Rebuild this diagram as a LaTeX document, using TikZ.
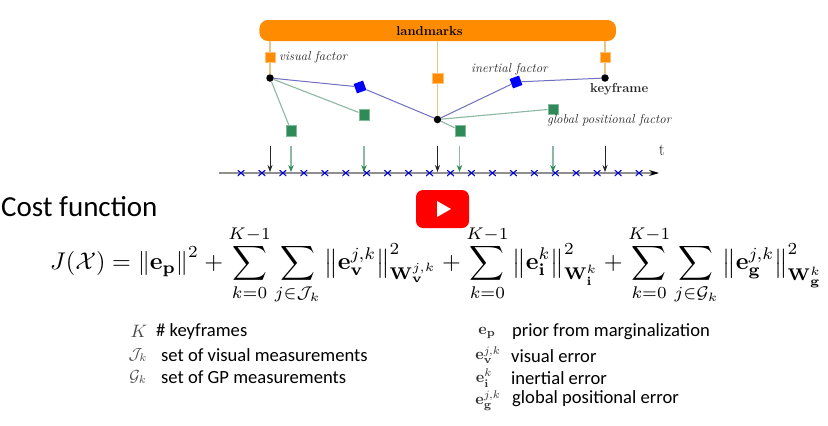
\documentclass[tikz,border=0pt]{standalone}
\usepackage{amsmath,amssymb,graphicx}
\usepackage[no-math]{fontspec}
\setmainfont{Carlito}
\newfontfamily\lmser{Latin Modern Roman}
\usetikzlibrary{arrows.meta}
\definecolor{lmorange}{HTML}{FF8C00}
\definecolor{lmline}{HTML}{E8C684}
\definecolor{gfgreen}{HTML}{2E8B57}
\definecolor{gline}{HTML}{8DB8A3}
\definecolor{bline}{HTML}{7070C0}
\definecolor{axgray}{HTML}{8F8F8F}
\tikzset{
 kf/.style={circle,fill=black,minimum size=7.5pt,inner sep=0},
 vfac/.style={rectangle,fill=lmorange,draw=lmorange!55,line width=.5pt,minimum size=10.5pt,inner sep=0},
 ifac/.style={rectangle,fill=blue,minimum size=10pt,inner sep=0,rotate=20},
 gfac/.style={rectangle,fill=gfgreen,draw=gfgreen!60,line width=.5pt,minimum size=10.5pt,inner sep=0},
 vline/.style={lmline,line width=1.2pt},
 iline/.style={bline,line width=1pt},
 gnline/.style={gline,line width=1.1pt},
 cross/.style={inner sep=0,minimum width=7pt,minimum height=6pt,draw=none,
   path picture={\draw[blue!85!black,line width=1.1pt] (path picture bounding box.south west)--(path picture bounding box.north east)
     (path picture bounding box.north west)--(path picture bounding box.south east);}},
 kfarrow/.style={black!85,line width=.7pt,-{Stealth[length=7pt,width=5pt]},shorten >=1pt},
 garrow/.style={gline,line width=1.1pt,-{Stealth[length=7pt,width=5.5pt,color=gfgreen]},shorten >=1pt},
 flabel/.style={inner sep=0,anchor=west,text=black!85},
 leg/.style={inner sep=0,anchor=west,text=black},
 mathlab/.style={inner sep=0,text=black!70},
}
\begin{document}
\begin{tikzpicture}[x=1pt,y=-1pt]
\useasboundingbox[fill=white] (0,0) rectangle (828,426);
% landmarks
\node[fill=lmorange,rounded corners=8.5pt,minimum width=356.5pt,minimum height=21pt,inner sep=0] (lm) at (437.7,30.5) {};
\node[inner sep=0] (lmt) at (429.5,31.5) {\lmser\fontsize{13}{14}\selectfont\bfseries landmarks};
% keyframes
\node[kf] (k1) at (270,78) {};
\node[kf] (k2) at (437.5,119.5) {};
\node[kf] (k3) at (605,78) {};
% factors
\node[vfac] (v1) at (270,57) {};
\node[vfac] (v2) at (437.5,78) {};
\node[vfac] (v3) at (605,57) {};
\node[ifac] (i1) at (360,87) {};
\node[ifac] (i2) at (516,82) {};
\node[gfac] (g1) at (291,130.5) {};
\node[gfac] (g2) at (364,114.5) {};
\node[gfac] (g3) at (460,130.5) {};
\node[gfac] (g4) at (553,109) {};
% connectors
\coordinate (l1) at (270,41); \coordinate (l2) at (437.5,41); \coordinate (l3) at (605,41);
\draw[vline] (l1) -- (v1); \draw[vline] (v1) -- (k1);
\draw[vline] (l2) -- (v2); \draw[vline] (v2) -- (k2);
\draw[vline] (l3) -- (v3); \draw[vline] (v3) -- (k3);
\draw[iline] (k1) -- (i1); \draw[iline] (i1) -- (k2);
\draw[iline] (k2) -- (i2); \draw[iline] (i2) -- (k3);
\draw[gnline] (k1) -- (g1); \draw[gnline] (k1) -- (g2);
\draw[gnline] (k2) -- (g3); \draw[gnline] (k2) -- (g4);
% labels
\node[flabel] (lv) at (279,57) {\lmser\fontsize{12.9}{14}\selectfont\itshape visual factor};
\node[flabel] (li) at (471,69.5) {\lmser\fontsize{12.9}{14}\selectfont\itshape inertial factor};
\node[flabel] (lk) at (590,89) {\lmser\fontsize{13}{14}\selectfont\bfseries keyframe};
\node[flabel] (lg) at (547,120.5) {\lmser\fontsize{12.9}{14}\selectfont\itshape global positional factor};
\node[inner sep=0,text=black!85] (lt) at (662,150) {\lmser\fontsize{17}{17}\selectfont t};
% time axis
\coordinate (a0) at (219,173); \coordinate (a1) at (659,173);
\draw[axgray,line width=1.1pt,-{Stealth[length=10pt,width=6pt,color=black]}] (a0) -- (a1);
\foreach \n in {0,...,19}{\node[cross] (c\n) at ({241+20.95*\n},173) {};}
% arrows
\foreach \nm/\x in {a/270,b/437.5,c/605}{
 \coordinate (s\nm) at (\x,146); \coordinate (e\nm) at (\x,173);
 \draw[kfarrow] (s\nm) -- (e\nm);}
\foreach \nm/\x in {d/291,e/364,f/459.5,h/553}{
 \coordinate (s\nm) at (\x,146); \coordinate (e\nm) at (\x,173);
 \draw[garrow] (s\nm) -- (e\nm);}
% title
\node[leg] (cf) at (1,207) {\fontsize{29}{31}\selectfont Cost function};
% youtube
\node[fill=red,rounded corners=7pt,minimum width=53pt,minimum height=38pt,inner sep=0] (yt) at (442.5,209) {};
\fill[white] (437,201) -- (451,209) -- (437,217) -- cycle;
% equation
\node[inner sep=0,anchor=west] (eq) at (50,265) {\resizebox{772pt}{!}{$\displaystyle J(\mathcal{X})=\left\|\mathbf{e}_{\mathbf{p}}\right\|^2+\sum_{k{=}0}^{K{-}1}\sum_{j\in\mathcal{J}_k}\left\|\mathbf{e}_{\mathbf{v}}^{j,k}\right\|^2_{\mathbf{W}_{\mathbf{v}}^{j,k}}+\sum_{k{=}0}^{K{-}1}\left\|\mathbf{e}_{\mathbf{i}}^{k}\right\|^2_{\mathbf{W}_{\mathbf{i}}^{k}}+\sum_{k{=}0}^{K{-}1}\sum_{j\in\mathcal{G}_k}\left\|\mathbf{e}_{\mathbf{g}}^{j,k}\right\|^2_{\mathbf{W}_{\mathbf{g}}^{k}}$}};
% legend left
\node[mathlab] (mk) at (139,331) {\scalebox{1.8}{$K$}};
\node[mathlab] (mj) at (138,355) {\scalebox{1.6}{$\mathcal{J}_k$}};
\node[mathlab] (mg) at (138,377) {\scalebox{1.6}{$\mathcal{G}_k$}};
\node[leg] (t1) at (156,332) {\fontsize{18.6}{21}\selectfont \# keyframes};
\node[leg] (t2) at (161,355) {\fontsize{18.6}{21}\selectfont set of visual measurements};
\node[leg] (t3) at (161,377) {\fontsize{18.6}{21}\selectfont set of GP measurements};
% legend right
\node[mathlab,text=black!80] (mp) at (487,333) {\scalebox{1.6}{$\mathbf{e}_{\mathbf{p}}$}};
\node[mathlab,text=black!80] (mv) at (488,355) {\scalebox{1.6}{$\mathbf{e}_{\mathbf{v}}^{j,k}$}};
\node[mathlab,text=black!80] (mi) at (484,378) {\scalebox{1.6}{$\mathbf{e}_{\mathbf{i}}^{k}$}};
\node[mathlab,text=black!80] (me) at (488,401) {\scalebox{1.6}{$\mathbf{e}_{\mathbf{g}}^{j,k}$}};
\node[leg] (r1) at (512,332) {\fontsize{18.6}{21}\selectfont prior from marginalization};
\node[leg] (r2) at (511,356) {\fontsize{18.6}{21}\selectfont visual error};
\node[leg] (r3) at (511,378) {\fontsize{18.6}{21}\selectfont inertial error};
\node[leg] (r4) at (512,399) {\fontsize{18.6}{21}\selectfont global positional error};
\end{tikzpicture}
\end{document}
